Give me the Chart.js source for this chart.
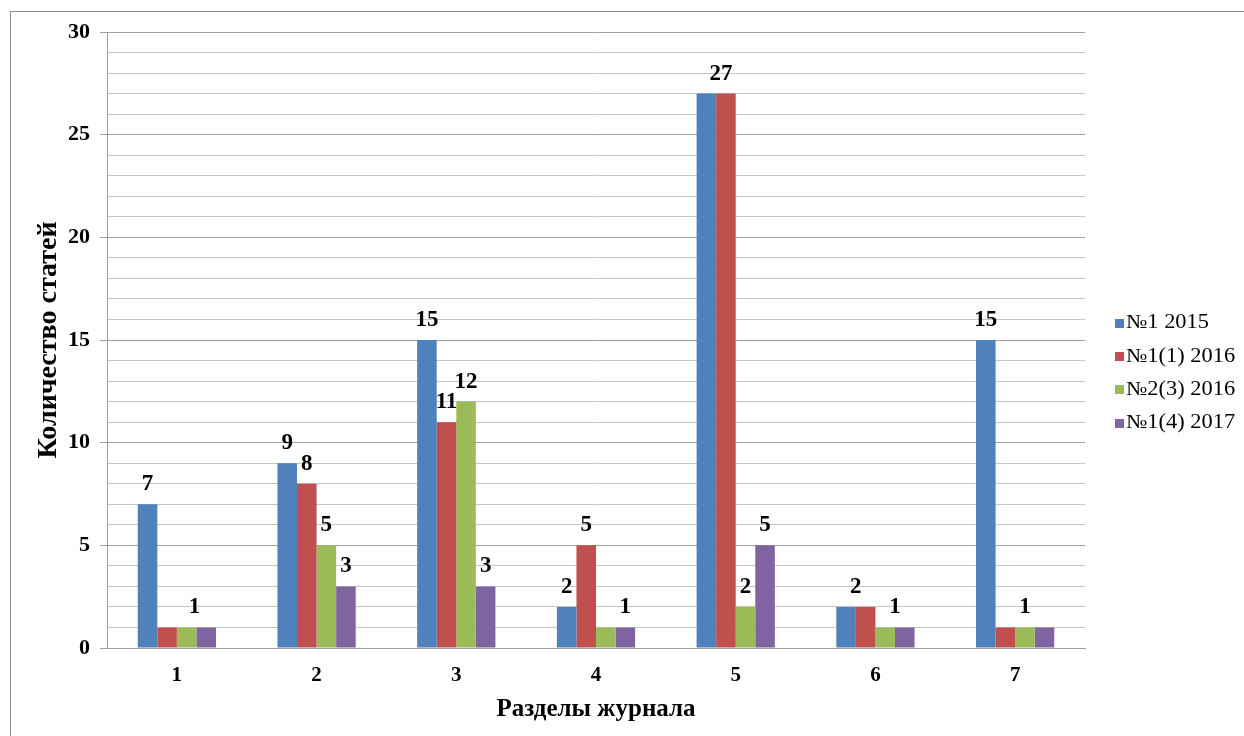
<!DOCTYPE html>
<html>
<head>
<meta charset="utf-8">
<script src="https://cdn.jsdelivr.net/npm/chart.js@4.4.1/dist/chart.umd.min.js"></script>
<style>
  html, body { margin: 0; padding: 0; background: #fff; }
  #wrap { width: 1244px; height: 736px; position: relative; }
</style>
</head>
<body>
<div id="wrap"><canvas id="c" width="1244" height="736"></canvas></div>
<script>
// Journal sections on the x axis
const categories = ['1', '2', '3', '4', '5', '6', '7'];

// Issue names (legend)
const seriesNames = ['№1 2015', '№1(1) 2016', '№2(3) 2016', '№1(4) 2017'];

// Number of articles per section, one array per issue
const issue2015 = [7, 9, 15, 2, 27, 2, 15];
const issue2016a = [1, 8, 11, 5, 27, 2, 1];
const issue2016b = [1, 5, 12, 1, 2, 1, 1];
const issue2017 = [1, 3, 3, 1, 5, 1, 1];

// Labelled values on the y axis
const yTicks = [0, 5, 10, 15, 20, 25, 30];

// Bars that carry a value label (section indexes, per issue)
const labelledBars = [
  [0, 1, 2, 3, 5, 6],
  [1, 2, 3, 4],
  [0, 1, 2, 4, 5, 6],
  [1, 2, 3, 4]
];

const seriesColors = ['#4F81BD', '#C0504D', '#9BBB59', '#8064A2'];
const seriesData = [issue2015, issue2016a, issue2016b, issue2017];

const SERIF = "'Liberation Serif', 'Times New Roman', serif";

// Horizontal nudges (in bar widths) for labels shared by neighbouring bars
const labelShift = { '0-5': 0.5, '1-4': -0.25, '2-0': 0.4, '2-5': 0.5 };

const framePlugin = {
  id: 'frame',
  beforeDraw(chart) {
    const ctx = chart.ctx;
    ctx.save();
    ctx.fillStyle = '#ffffff';
    ctx.fillRect(0, 0, chart.width, chart.height);
    ctx.strokeStyle = '#8c8c8c';
    ctx.lineWidth = 1;
    ctx.strokeRect(10.5, 11.5, chart.width + 20, chart.height + 20);
    ctx.restore();
  }
};

const valueLabels = {
  id: 'valueLabels',
  afterDatasetsDraw(chart) {
    const ctx = chart.ctx;
    ctx.save();
    ctx.font = 'bold 23px ' + SERIF;
    ctx.fillStyle = '#000';
    ctx.textAlign = 'center';
    ctx.textBaseline = 'middle';
    chart.data.datasets.forEach((ds, i) => {
      const meta = chart.getDatasetMeta(i);
      labelledBars[i].forEach(idx => {
        const bar = meta.data[idx];
        const shift = labelShift[i + '-' + idx] || 0;
        ctx.fillText(String(ds.data[idx]), bar.x + shift * bar.width, bar.y - 20);
      });
    });
    ctx.restore();
  }
};

const sideLegend = {
  id: 'sideLegend',
  afterDraw(chart) {
    const ctx = chart.ctx;
    ctx.save();
    ctx.font = '20px ' + SERIF;
    ctx.textAlign = 'left';
    ctx.textBaseline = 'middle';
    chart.data.datasets.forEach((ds, i) => {
      const y = 323 + i * 33.4;
      ctx.fillStyle = ds.backgroundColor;
      ctx.fillRect(1115, Math.round(y - 4.5), 9, 9);
      ctx.fillStyle = '#000';
      ctx.save();
      ctx.translate(1126, y);
      ctx.scale(1.12, 1);
      ctx.fillText(ds.label, 0, 0);
      ctx.restore();
    });
    ctx.restore();
  }
};

new Chart(document.getElementById('c'), {
  type: 'bar',
  data: {
    labels: categories,
    datasets: seriesData.map((d, i) => ({
      label: seriesNames[i],
      data: d,
      backgroundColor: seriesColors[i],
      borderWidth: 0,
      categoryPercentage: 0.56,
      barPercentage: 1.0
    }))
  },
  options: {
    responsive: false,
    animation: false,
    devicePixelRatio: 1,
    layout: { padding: { left: 28, top: 32, right: 159, bottom: 0 } },
    plugins: {
      legend: { display: false },
      tooltip: { enabled: false }
    },
    scales: {
      x: {
        grid: { display: false, drawTicks: false },
        border: { display: true, color: '#a0a0a0', width: 1 },
        ticks: {
          color: '#000',
          font: { family: SERIF, size: 21, weight: 'bold' },
          padding: 15
        },
        title: {
          display: true,
          text: 'Разделы журнала',
          color: '#000',
          font: { family: SERIF, size: 25, weight: 'bold' },
          padding: { top: 0, bottom: 11 }
        },
        afterFit(scale) { scale.height = 88; }
      },
      y: {
        min: 0,
        max: 30,
        grid: {
          color: c => (c.tick && c.tick.value % 5 === 0) ? '#a0a0a0' : '#c4c4c4',
          tickColor: c => (c.tick && c.tick.value % 5 === 0) ? '#a0a0a0' : 'rgba(0,0,0,0)',
          tickLength: 7,
          lineWidth: 1
        },
        border: { display: true, color: '#a0a0a0', width: 1 },
        ticks: {
          stepSize: 1,
          autoSkip: false,
          color: '#000',
          padding: 10,
          font: { family: SERIF, size: 22, weight: 'bold' },
          callback: v => yTicks.includes(v) ? String(v) : ''
        },
        title: {
          display: true,
          text: 'Количество статей',
          color: '#000',
          font: { family: SERIF, size: 28, weight: 'bold' },
          padding: { top: 4, bottom: 0 }
        },
        afterFit(scale) { scale.width = 79; }
      }
    }
  },
  plugins: [framePlugin, valueLabels, sideLegend]
});
</script>
</body>
</html>
